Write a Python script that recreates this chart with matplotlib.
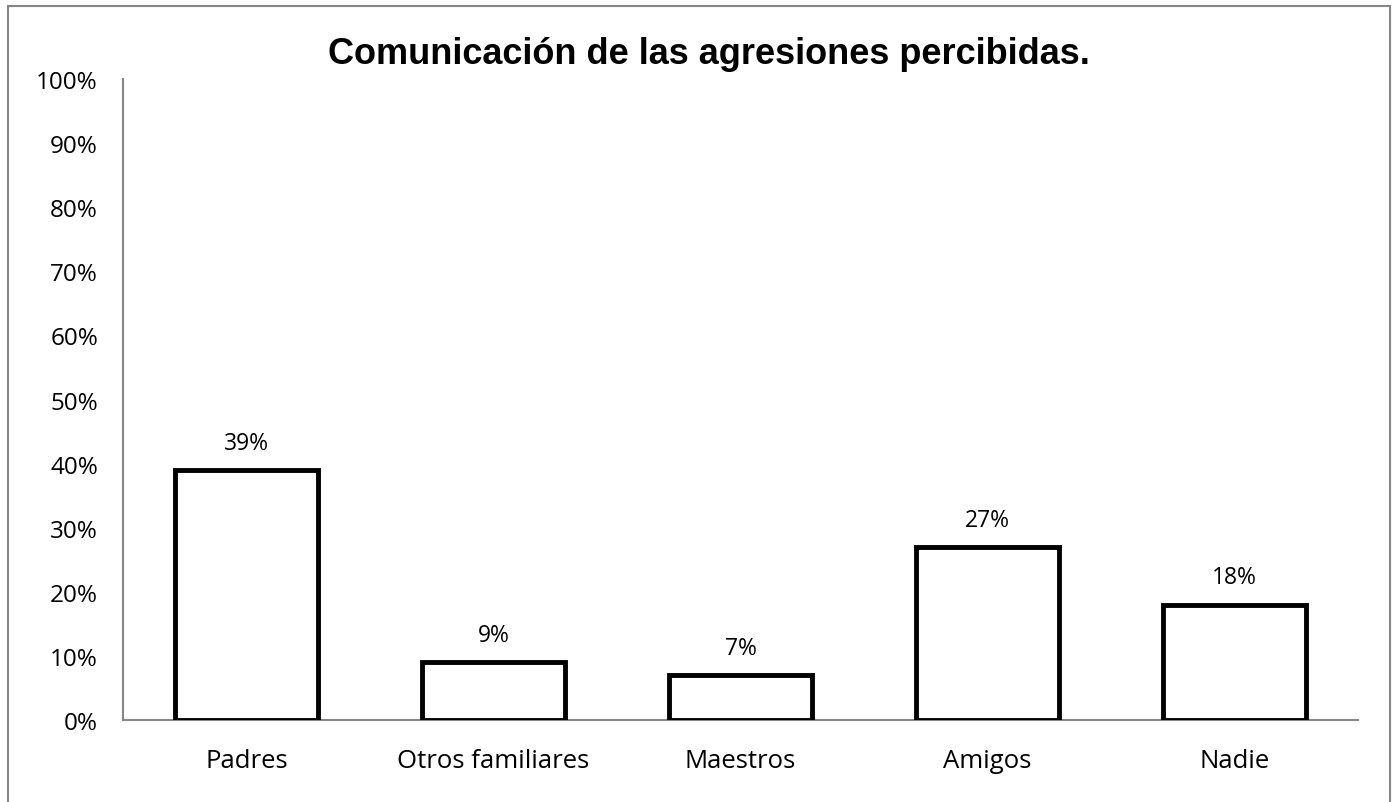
import matplotlib
matplotlib.use("Agg")
import matplotlib.pyplot as plt
from matplotlib.patches import Rectangle

categories = ["Padres", "Otros familiares", "Maestros", "Amigos", "Nadie"]
values = [39, 9, 7, 27, 18]
yticks = [0, 10, 20, 30, 40, 50, 60, 70, 80, 90, 100]
title = "Comunicación de las agresiones percibidas."

W, H = 1397, 803
fig = plt.figure(figsize=(W / 100, H / 100), dpi=100)
ax = fig.add_axes([123 / W, 1 - 721 / H, (1358 - 123) / W, (721 - 80) / H])

x = range(len(categories))
ax.bar(x, values, width=0.58, facecolor="white", edgecolor="black", linewidth=3.5, zorder=3)
for i, v in zip(x, values):
    ax.annotate(f"{v}%", (i, v), xytext=(0, 11), textcoords="offset points",
                ha="center", va="bottom", fontsize=16.5, family="Open Sans")

ax.set_xlim(-0.5, len(categories) - 0.5)
ax.set_ylim(0, 100)
ax.set_yticks(yticks)
ax.set_yticklabels([f"{t}%" for t in yticks], family="Open Sans", fontsize=17.5)
ax.set_xticks(list(x))
ax.set_xticklabels(categories, family="Open Sans", fontsize=18.5)
ax.tick_params(length=0)
ax.tick_params(axis="y", pad=18)
ax.tick_params(axis="x", pad=20)
for s in ["top", "right"]:
    ax.spines[s].set_visible(False)
for s in ["left", "bottom"]:
    ax.spines[s].set_color("#868686")
    ax.spines[s].set_linewidth(1.5)

fig.text(709 / W, 1 - 55 / H, title, ha="center", va="center",
         fontsize=26, fontweight="bold", family="Liberation Sans")

# chart area border
fig.add_artist(Rectangle((8 / W, -0.01), (1390 - 8) / W, 1 - 7 / H + 0.01,
                         transform=fig.transFigure, fill=False,
                         edgecolor="#868686", linewidth=1.5))

fig.savefig("out.png", dpi=100)
